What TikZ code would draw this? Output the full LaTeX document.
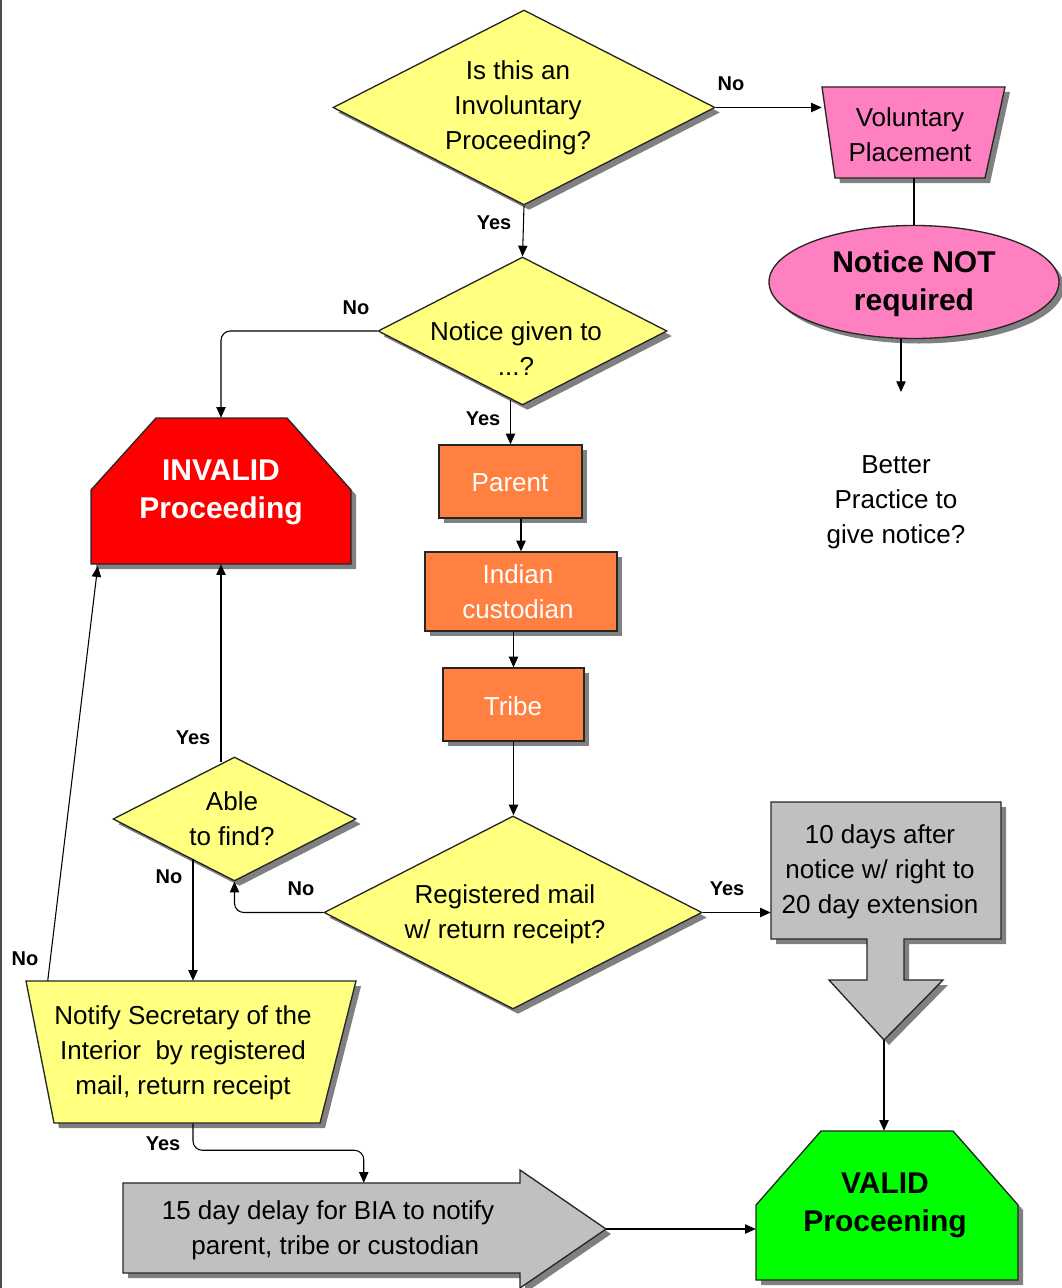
\documentclass[tikz,border=0pt]{standalone}
\usepackage{fontspec}
\setmainfont{Liberation Sans}
\usetikzlibrary{shapes.geometric,shadows,arrows.meta,calc}
\definecolor{yel}{HTML}{FFFF80}
\definecolor{pnk}{HTML}{FF80C0}
\definecolor{org}{HTML}{FF8040}
\definecolor{gry}{HTML}{C0C0C0}
\definecolor{rd}{HTML}{FF0000}
\definecolor{grn}{HTML}{00FF00}
\definecolor{shd}{HTML}{808080}
\tikzset{
  sh/.style={drop shadow={shadow xshift=3.75pt,shadow yshift=-3.75pt,fill=shd,opacity=1}},
  shp/.style={draw=black!85,line width=1pt,sh},
  wh/.style 2 args={minimum width=#1*0.75pt,minimum height=#2*0.75pt,inner sep=0pt},
  conn/.style={draw=black,line width=0.8pt},
  arr/.style={conn,-{Triangle[length=8pt,width=7pt]}},
  txt/.style={align=center,font=\fontsize{19.5pt}{26.25pt}\selectfont,inner sep=0pt},
  btxt/.style={align=center,font=\fontsize{22.5pt}{28.5pt}\selectfont\bfseries,inner sep=0pt},
  lab/.style={font=\fontsize{15pt}{18pt}\selectfont\bfseries,inner sep=0pt},
}
\begin{document}
\begin{tikzpicture}[x=0.75pt,y=-0.75pt]
\useasboundingbox (0,0) rectangle (1061,1288);
\fill[white] (0,0) rectangle (1061,1288);
\draw[line width=1.5pt,black!70] (1,0) -- (1,1288);

% --- shapes ---
\node[diamond,shp,fill=yel,wh={382}{195}] (d1) at (524,107.5) {};
\node[txt] (t1) at (518,108) {Is this an\\Involuntary\\Proceeding?};

\path[shp,fill=pnk] (822,87) -- (1005,87) -- (985,178) -- (835,178) -- cycle;
\node[wh={183}{91}] (vp) at (913.5,132.5) {};
\node[txt] (t0) at (910,135) {Voluntary\\Placement};

\node[ellipse,shp,fill=pnk,wh={290}{113}] (ell) at (914,282) {};
\node[btxt] (t2) at (914,284) {Notice NOT\\required};
\coordinate (bp) at (901,392);
\node[txt] (t3) at (896,502) {Better\\Practice to\\give notice?};

\node[diamond,shp,fill=yel,wh={289}{148}] (d2) at (522.5,331) {};
\node[txt] (t4) at (516,349) {Notice given to\\...?};

\path[shp,fill=rd] (91,490) -- (156,418) -- (287,418) -- (351,490) -- (351,564) -- (91,564) -- cycle;
\node[wh={260}{146}] (inv) at (221,491) {};
\node[btxt,text=white] (t5) at (221,492) {INVALID\\Proceeding};

\node[shp,fill=org,wh={143}{73}] (par) at (510.5,481.5) {};
\node[txt,text=white] (t12) at (510,483) {Parent};
\node[shp,fill=org,wh={192}{79}] (ind) at (521,591.5) {};
\node[txt,text=white] (t13) at (518,592) {Indian\\custodian};
\node[shp,fill=org,wh={141}{73}] (tri) at (513.5,704.5) {};
\node[txt,text=white] (t14) at (513,706) {Tribe};

\node[diamond,shp,fill=yel,wh={378}{193}] (d3) at (513,912.5) {};
\node[txt] (t6) at (505,914) {Registered mail\\w/ return receipt?};

\path[shp,fill=gry] (771,802) -- (1001,802) -- (1001,939) -- (904,939) -- (904,980) -- (943,980)
  -- (884,1040) -- (829,980) -- (867,980) -- (867,939) -- (771,939) -- cycle;
\node[wh={230}{137}] (box) at (886,870.5) {};
\node[txt] (t7) at (880,872) {10 days after\\notice w/ right to\\20 day extension};
\coordinate (dtip) at (884,1040);

\path[shp,fill=grn] (756,1205) -- (821,1131) -- (953,1131) -- (1018,1205) -- (1018,1280) -- (756,1280) -- cycle;
\node[wh={262}{149}] (val) at (887,1205.5) {};
\node[btxt] (t8) at (885,1205) {VALID\\Proceening};

\node[diamond,shp,fill=yel,wh={243}{124}] (d4) at (234.5,819) {};
\node[txt] (t9) at (232,819) {Able\\to find?};

\path[shp,fill=yel] (26,981) -- (356,981) -- (320,1123) -- (54,1123) -- cycle;
\node[wh={330}{142}] (nt) at (191,1052) {};
\node[txt] (t10) at (183,1053) {Notify Secretary of the\\Interior\ \ by registered\\mail, return receipt};

\path[shp,fill=gry] (123,1183) -- (520,1183) -- (520,1170) -- (606,1229) -- (520,1288) -- (520,1273) -- (123,1273) -- cycle;
\node[wh={397}{90}] (bg) at (321.5,1228) {};
\node[txt] (t11) at (328,1230) {15 day delay for BIA to notify\\\ \ parent, tribe or custodian};
\coordinate (btip) at (606,1229);

% --- connectors ---
\draw[arr] (d1.east) -- (d1.east -| vp.west);
\draw[arr] (d1.south) -- (d2.north);
\draw[conn] (vp.south -| ell.north) -- (ell.north);
\draw[arr] (ell.south -| bp) -- (bp);
\draw[arr,rounded corners=7pt] (d2.west) -| (inv.north);
\draw[arr] ($(par.north |- d2.south)+(0,-6)$) -- (par.north);
\draw[arr] (par.south -| ind.north) -- (ind.north);
\draw[arr] (ind.south -| tri.north) -- (tri.north);
\draw[arr] (tri.south) -- (tri.south |- d3.north);
\draw[arr] (d3.east) -- (d3.east -| box.west);
\draw[arr] (dtip) -- (dtip |- val.north);
\draw[arr,rounded corners=7pt] (d3.west) -| (d4.south);
\draw[arr] ($(inv.south |- d4.north)+(0,6)$) -- (inv.south);
\coordinate (d4s) at ($(d4.center)+(-41.5,40)$);
\draw[arr] (d4s) -- (d4s |- nt.north);
\draw[arr] ($(nt.north west)+(22,0)$) -- ($(inv.south west)+(7,2)$);
\draw[arr,rounded corners=7pt] ($(nt.south)+(2,0)$) -- ++(0,27) -| ($(bg.north west)+(241,0)$);
\draw[arr] (btip) -- (btip -| val.west);

% --- labels ---
\node[lab] (l1) at (731,84) {No};
\node[lab] (l2) at (494,223) {Yes};
\node[lab] (l3) at (356,308) {No};
\node[lab] (l4) at (483,419) {Yes};
\node[lab] (l5) at (193,738) {Yes};
\node[lab] (l6) at (169,877) {No};
\node[lab] (l7) at (301,889) {No};
\node[lab] (l8) at (727,889) {Yes};
\node[lab] (l9) at (25,959) {No};
\node[lab] (l10) at (163,1144) {Yes};
\end{tikzpicture}
\end{document}
